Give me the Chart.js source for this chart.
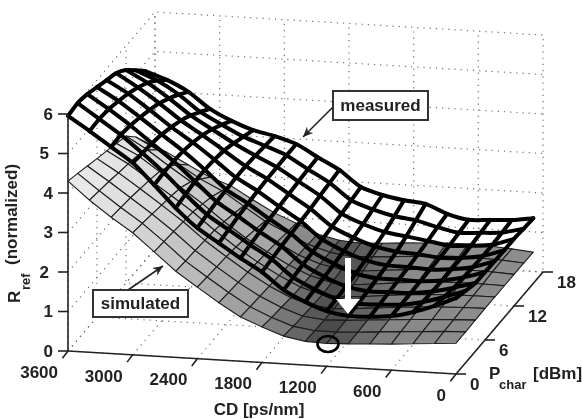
<!DOCTYPE html>
<html><head><meta charset="utf-8">
<style>html,body{margin:0;padding:0;background:#fff}canvas{display:block;filter:blur(0.45px)}</style>
<script src="https://cdn.jsdelivr.net/npm/chart.js@4"></script>
</head><body><canvas id="c" width="582" height="419"></canvas>
<script>
const cdTicks=[3600,3000,2400,1800,1200,600,0];
const pTicks=[0,6,12,18];
const zTicks=[0,1,2,3,4,5,6];
const cdGrid=[3600,3400,3200,3000,2800,2600,2400,2200,2000,1800,1600,1400,1200,1000,800,600,400,200,0];
const pGrid=[0,2,4,6,8,10,12,14,16];
const measuredZ=[
[5.95,5.60,5.23,4.86,4.33,3.78,3.31,2.96,2.61,2.29,1.87,1.60,1.40,1.31,1.32,1.37,1.50,1.69,1.92],
[5.99,5.62,5.25,4.82,4.36,3.84,3.36,3.01,2.66,2.33,1.90,1.63,1.42,1.33,1.34,1.37,1.47,1.63,1.82],
[5.93,5.58,5.20,4.78,4.36,3.88,3.40,3.06,2.70,2.37,1.94,1.66,1.45,1.36,1.37,1.38,1.45,1.58,1.73],
[5.82,5.50,5.12,4.72,4.33,3.89,3.42,3.10,2.74,2.40,1.97,1.70,1.49,1.40,1.40,1.39,1.44,1.55,1.72],
[5.71,5.40,5.02,4.62,4.26,3.86,3.44,3.13,2.77,2.43,2.00,1.74,1.54,1.44,1.43,1.40,1.44,1.53,1.71],
[5.60,5.27,4.90,4.50,4.16,3.80,3.44,3.15,2.80,2.46,2.04,1.79,1.60,1.50,1.47,1.41,1.44,1.52,1.70],
[5.39,5.10,4.74,4.34,4.02,3.70,3.42,3.16,2.83,2.50,2.08,1.85,1.68,1.60,1.52,1.43,1.46,1.52,1.70],
[5.10,4.87,4.55,4.14,3.85,3.58,3.38,3.17,2.85,2.54,2.13,1.93,1.79,1.72,1.58,1.47,1.50,1.54,1.67],
[4.79,4.60,4.33,3.93,3.66,3.46,3.34,3.17,2.87,2.58,2.18,2.01,1.91,1.85,1.63,1.51,1.54,1.57,1.65]];
const simulatedZ=[
[4.30,3.85,3.45,3.09,2.64,2.18,1.81,1.45,1.12,0.90,0.70,0.60,0.58,0.60,0.63,0.66,0.70,0.74,0.78],
[4.21,3.80,3.41,3.04,2.61,2.15,1.78,1.42,1.09,0.85,0.66,0.58,0.58,0.61,0.65,0.69,0.72,0.76,0.78],
[4.11,3.75,3.37,2.99,2.58,2.13,1.75,1.39,1.07,0.82,0.63,0.57,0.59,0.63,0.67,0.71,0.74,0.77,0.79],
[4.01,3.68,3.31,2.93,2.54,2.10,1.72,1.36,1.04,0.78,0.61,0.57,0.60,0.65,0.70,0.74,0.77,0.79,0.80],
[3.92,3.62,3.25,2.88,2.50,2.07,1.68,1.33,1.02,0.76,0.60,0.58,0.62,0.68,0.73,0.77,0.79,0.80,0.80],
[3.82,3.55,3.17,2.80,2.42,2.00,1.62,1.30,1.00,0.76,0.62,0.60,0.65,0.71,0.76,0.80,0.81,0.81,0.80],
[3.72,3.40,3.02,2.66,2.32,1.92,1.55,1.26,0.97,0.77,0.66,0.66,0.71,0.76,0.81,0.84,0.84,0.83,0.80],
[3.41,3.12,2.78,2.44,2.18,1.82,1.47,1.21,0.95,0.78,0.71,0.73,0.77,0.81,0.85,0.87,0.86,0.84,0.80],
[3.00,2.77,2.48,2.20,2.01,1.69,1.39,1.17,0.92,0.80,0.76,0.79,0.83,0.86,0.89,0.90,0.88,0.84,0.79]];
// column of the dark trough in each P row of the simulated surface
const troughColumn=[12,11.7,11.4,11.1,10.8,10.5,10.2,9.9,9.6];

// view: oblique projection of (CD, P, z) into the chart's plane
function proj(cd,p,z){const u=(3600-cd)/3600,v=p/18;return{x:68+388*u+87*v,y:351+23*u-102*v-39.5*z};}
const shadeStops=[[0.55,130],[0.8,140],[1,150],[1.5,170],[2,187],[3,215],[4.3,236]];
function shade(z){let s=shadeStops;if(z<=s[0][0])return s[0][1];for(let k=1;k<s.length;k++)if(z<=s[k][0]){const t=(z-s[k-1][0])/(s[k][0]-s[k-1][0]);return s[k-1][1]+t*(s[k][1]-s[k-1][1]);}return s[s.length-1][1];}
const ds=[];
function add(points,o){ds.push(Object.assign({data:points,showLine:true,pointRadius:0,fill:false,borderColor:'#000',borderWidth:1},o));}
const dots={borderColor:'#6e6e6e',borderWidth:1.2,borderDash:[1.2,5]};
// walls + floor
zTicks.forEach(z=>{add([proj(3600,0,z),proj(3600,18,z),proj(0,18,z)],dots);});
cdTicks.forEach(c=>{add([proj(c,0,0),proj(c,18,0),proj(c,18,6)],dots);});
pTicks.forEach(p=>{add([proj(0,p,0),proj(3600,p,0),proj(3600,p,6)],dots);});
// simulated surface: back to front
for(let j=pGrid.length-2;j>=0;j--)for(let i=0;i<cdGrid.length-1;i++){
 const Z=simulatedZ,a=[Z[j][i],Z[j][i+1],Z[j+1][i+1],Z[j+1][i]];
 const tc=(troughColumn[j]+troughColumn[j+1])/2;
 const dark=58*Math.max(0,1-Math.abs(i+0.5-tc)/3);
 const g=Math.round(shade((a[0]+a[1]+a[2]+a[3])/4)-dark);
 add([proj(cdGrid[i],pGrid[j],a[0]),proj(cdGrid[i+1],pGrid[j],a[1]),proj(cdGrid[i+1],pGrid[j+1],a[2]),proj(cdGrid[i],pGrid[j+1],a[3]),proj(cdGrid[i],pGrid[j],a[0])],
 {fill:'shape',backgroundColor:`rgb(${g},${g},${g})`,borderColor:'#1c1c1c',borderWidth:1.1});
}
// measured mesh
const heavy={borderColor:'#000',borderWidth:4,borderJoinStyle:'round',borderCapStyle:'round',tension:0.25};
pGrid.forEach((p,j)=>add(cdGrid.map((c,i)=>proj(c,p,measuredZ[j][i])),heavy));
cdGrid.forEach((c,i)=>add(pGrid.map((p,j)=>proj(c,p,measuredZ[j][i])),heavy));
// axes
const axis={borderColor:'#222',borderWidth:1.6};
add([proj(3600,0,0),proj(3600,0,6)],axis);
add([proj(3600,0,0),proj(0,0,0)],axis);
add([proj(0,0,0),proj(0,18,0)],axis);
zTicks.forEach(z=>{const a=proj(3600,0,z);add([a,{x:a.x-10,y:a.y}],axis);});
cdTicks.forEach(c=>{const a=proj(c,0,0);add([a,{x:a.x-5.6,y:a.y+7.3}],axis);});
pTicks.forEach(p=>{const a=proj(0,p,0);add([a,{x:a.x+10,y:a.y}],axis);});
ds.forEach((d,k)=>{d.order=ds.length-k;});

const BOLD='bold 17px "Liberation Sans",Arial,sans-serif';
const SUB='bold 13px "Liberation Sans",Arial,sans-serif';
const INK='#222';
function arrow(c,x0,y0,x1,y1){c.strokeStyle='#222';c.fillStyle='#222';c.lineWidth=1.6;c.beginPath();c.moveTo(x0,y0);c.lineTo(x1,y1);c.stroke();
 const t=Math.atan2(y1-y0,x1-x0),L=11,W=0.42;c.beginPath();c.moveTo(x1,y1);c.lineTo(x1-L*Math.cos(t-W),y1-L*Math.sin(t-W));c.lineTo(x1-7*Math.cos(t),y1-7*Math.sin(t));c.lineTo(x1-L*Math.cos(t+W),y1-L*Math.sin(t+W));c.closePath();c.fill();}
function box(c,x,y,w,h,txt){c.fillStyle='#fff';c.strokeStyle='#333';c.lineWidth=2;c.fillRect(x,y,w,h);c.strokeRect(x,y,w,h);c.fillStyle=INK;c.font=BOLD;c.textAlign='center';c.textBaseline='middle';c.fillText(txt,x+w/2,y+h/2+0.5);}
const labels={id:'labels',afterDatasetsDraw(ch){const c=ch.ctx,X=ch.scales.x,Y=ch.scales.y;
 const P=q=>({x:X.getPixelForValue(q.x),y:Y.getPixelForValue(q.y)});
 c.save();c.fillStyle=INK;c.font=BOLD;c.textBaseline='middle';
 const zNudge={5:-4,2:-4};
 c.textAlign='right';zTicks.forEach(z=>{const a=P(proj(3600,0,z));c.fillText(String(z),a.x-15+(zNudge[z]||0),a.y+1);});
 cdTicks.forEach(v=>{const a=P(proj(v,0,0));c.fillText(String(v),a.x-10,a.y+22);});
 c.textAlign='left';pTicks.forEach(v=>{const a=P(proj(0,v,0));c.fillText(String(v),a.x+14,a.y+11);});
 c.textAlign='center';c.fillText('CD [ps/nm]',259,410);
 c.textAlign='left';c.textBaseline='alphabetic';c.fillText('P',489,379);c.font=SUB;c.fillText('char',499,389);c.font=BOLD;c.fillText('[dBm]',533,379);
 c.save();c.translate(20,303);c.rotate(-Math.PI/2);c.fillText('R',0,0);c.font=SUB;c.fillText('ref',13,10);c.font=BOLD;c.fillText('(normalized)',38,-3);c.restore();
 // white arrow
 c.fillStyle='#fff';c.beginPath();c.moveTo(345,258);c.lineTo(351,258);c.lineTo(351,299);c.lineTo(360,299);c.lineTo(348,314);c.lineTo(336,299);c.lineTo(345,299);c.closePath();c.fill();
 // circle
 c.strokeStyle='#000';c.lineWidth=2.6;c.beginPath();c.ellipse(328,344,10.5,8,0,0,Math.PI*2);c.stroke();
 arrow(c,333,107,303,137);arrow(c,128,290,163,266);
 box(c,333,91,95,29,'measured');box(c,93,290,95,27,'simulated');
 c.restore();}};
new Chart(document.getElementById('c'),{type:'scatter',data:{datasets:ds},plugins:[labels],options:{responsive:false,animation:false,events:[],
 layout:{padding:0},plugins:{legend:{display:false},tooltip:{enabled:false}},
 scales:{x:{type:'linear',display:false,min:0,max:582},y:{type:'linear',display:false,min:0,max:419,reverse:true}}}});
</script></body></html>
